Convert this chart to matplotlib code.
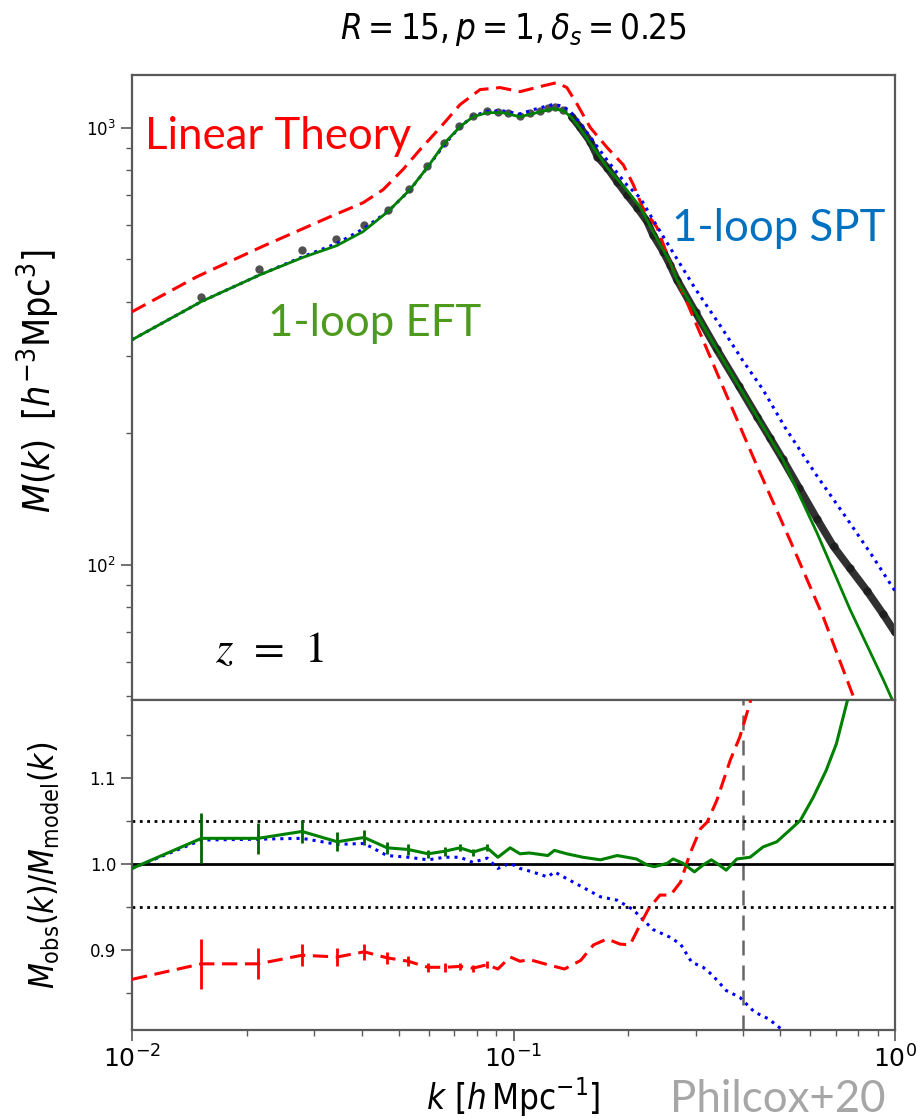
import matplotlib
matplotlib.use("Agg")
import matplotlib.pyplot as plt
from matplotlib import font_manager
from matplotlib.ticker import MultipleLocator, LogLocator, NullFormatter

# ---- top panel: measured marked power spectrum (h^-1 Mpc units) ----
k_data = [0.0152, 0.0215, 0.0279, 0.0343, 0.0406, 0.0469, 0.0532, 0.0594,
          0.0657, 0.0720, 0.0783, 0.0852, 0.0911, 0.0967, 0.104, 0.1105,
          0.1174, 0.123, 0.1285, 0.135, 0.142, 0.149, 0.159, 0.166, 0.176,
          0.187, 0.198, 0.211, 0.224, 0.232, 0.247, 0.257, 0.268, 0.30,
          0.341, 0.39, 0.435, 0.47, 0.508, 0.56, 0.625, 0.69, 0.762, 0.845,
          0.931, 1.0]
M_data = [410, 475, 524, 557, 600, 649, 724, 818, 924, 1011, 1065, 1094,
          1088, 1082, 1065, 1082, 1094, 1111, 1117, 1100, 1060, 1005, 929,
          858, 810, 752, 703, 656, 610, 569, 520, 486, 449, 378, 311, 256,
          218, 195, 174, 150, 127, 110, 98, 87, 77, 70]

k_lin = [0.01, 0.0148, 0.0220, 0.0330, 0.0403, 0.0455, 0.0513, 0.0569,
         0.0642, 0.0724, 0.0817, 0.0922, 0.104, 0.117, 0.130, 0.138, 0.147,
         0.159, 0.176, 0.194, 0.206, 0.218, 0.238, 0.257, 0.290, 0.354,
         0.435, 0.530, 0.648, 0.771, 0.80]
M_lin = [379, 456, 535, 625, 673, 721, 802, 891, 1000, 1129, 1222, 1235,
         1209, 1241, 1268, 1235, 1129, 1000, 900, 822, 741, 657, 590, 493,
         384, 255, 168, 114, 76, 50.9, 47]

k_eft = [0.01, 0.0152, 0.0217, 0.0281, 0.0344, 0.0403, 0.0469, 0.0535,
         0.0597, 0.0661, 0.0724, 0.0783, 0.0853, 0.0938, 0.104, 0.115, 0.127,
         0.135, 0.142, 0.149, 0.162, 0.176, 0.198, 0.215, 0.232, 0.257,
         0.268, 0.341, 0.435, 0.508, 0.625, 0.762, 0.931, 1.0]
M_eft = [327, 400, 461, 505, 537, 578, 643, 721, 815, 924, 1005, 1059, 1082,
         1082, 1059, 1082, 1105, 1094, 1055, 1000, 900, 810, 720, 657, 578,
         493, 449, 311, 218, 174, 118, 79, 54.6, 47.5]

k_spt = [0.01, 0.0152, 0.0217, 0.0281, 0.0344, 0.0403, 0.0469, 0.0535,
         0.0597, 0.0661, 0.0724, 0.0783, 0.0853, 0.0938, 0.104, 0.115, 0.127,
         0.135, 0.142, 0.149, 0.162, 0.176, 0.198, 0.215, 0.232, 0.257, 0.30,
         0.35, 0.40, 0.45, 0.515, 0.62, 0.75, 0.87, 1.0]
M_spt = [327, 400, 461, 507, 543, 586, 643, 720, 814, 918, 1005, 1062, 1090,
         1092, 1075, 1105, 1130, 1120, 1080, 1030, 930, 842, 740, 690, 616,
         532, 427, 350, 292, 252, 206, 161, 127, 105, 87]

# ---- bottom panel: M_obs / M_model ----
k_r_eft = [0.01, 0.0152, 0.0214, 0.0279, 0.0345, 0.0406, 0.0466, 0.053,
           0.0597, 0.066, 0.0724, 0.0783, 0.0853, 0.091, 0.098, 0.104, 0.110,
           0.123, 0.128, 0.138, 0.152, 0.169, 0.187, 0.210, 0.224, 0.234,
           0.253, 0.262, 0.278, 0.298, 0.314, 0.330, 0.346, 0.361, 0.385,
           0.417, 0.451, 0.490, 0.531, 0.565, 0.611, 0.660, 0.702, 0.751, 0.80]
r_eft = [0.995, 1.030, 1.030, 1.038, 1.026, 1.031, 1.019, 1.017, 1.012, 1.015,
         1.019, 1.014, 1.019, 1.008, 1.019, 1.012, 1.013, 1.010, 1.016, 1.012,
         1.008, 1.005, 1.010, 1.006, 0.999, 0.997, 1.001, 1.006, 1.001, 0.991,
         0.999, 1.005, 0.999, 0.993, 1.006, 1.008, 1.020, 1.026, 1.040, 1.051,
         1.078, 1.109, 1.140, 1.191, 1.25]

k_r_lin = [0.01, 0.0152, 0.0214, 0.0279, 0.0345, 0.0406, 0.0466, 0.053,
           0.0597, 0.066, 0.0724, 0.0783, 0.0853, 0.091, 0.098, 0.104, 0.110,
           0.123, 0.136, 0.150, 0.162, 0.176, 0.190, 0.202, 0.215, 0.226,
           0.242, 0.258, 0.274, 0.290, 0.309, 0.322, 0.341, 0.370, 0.392,
           0.417, 0.44]
r_lin = [0.866, 0.884, 0.884, 0.894, 0.892, 0.898, 0.891, 0.887, 0.880, 0.880,
         0.881, 0.879, 0.883, 0.878, 0.892, 0.887, 0.889, 0.883, 0.878, 0.888,
         0.906, 0.913, 0.907, 0.906, 0.930, 0.948, 0.964, 0.964, 0.979, 1.012,
         1.041, 1.049, 1.074, 1.121, 1.148, 1.188, 1.24]

k_r_spt = [0.01, 0.0152, 0.0214, 0.0279, 0.0345, 0.0406, 0.0466, 0.053,
           0.0597, 0.066, 0.0724, 0.0783, 0.0853, 0.091, 0.098, 0.104, 0.112,
           0.123, 0.128, 0.138, 0.152, 0.169, 0.187, 0.206, 0.219, 0.232,
           0.257, 0.274, 0.293, 0.314, 0.332, 0.361, 0.392, 0.428, 0.466,
           0.504, 0.54]
r_spt = [0.995, 1.028, 1.029, 1.030, 1.023, 1.024, 1.010, 1.008, 1.005, 1.008,
         1.008, 1.002, 1.007, 0.995, 1.001, 0.995, 0.991, 0.985, 0.991, 0.983,
         0.973, 0.962, 0.958, 0.947, 0.935, 0.924, 0.915, 0.907, 0.886, 0.880,
         0.871, 0.853, 0.845, 0.828, 0.820, 0.808, 0.79]

# 1-sigma errors on the first bins (shared by all ratios)
err_r = [0.0, 0.029, 0.018, 0.013, 0.011, 0.009, 0.007, 0.006, 0.005, 0.005,
         0.004, 0.004, 0.004]

k_cut = 0.4

# narrow sans for the axis labels if a condensed face is around
fonts = font_manager.fontManager.ttflist
if any(f.name == "DejaVu Sans" and "condensed" in str(f.stretch) for f in fonts):
    lab_rm = "DejaVu Sans:stretch=condensed"
    lab_it = "DejaVu Sans:style=italic:stretch=condensed"
else:
    lab_rm, lab_it = "DejaVu Sans", "DejaVu Sans:style=italic"
plt.rcParams["font.family"] = ["DejaVu Sans"]
plt.rcParams["mathtext.fontset"] = "custom"
plt.rcParams["mathtext.rm"] = lab_rm
plt.rcParams["mathtext.it"] = lab_it
plt.rcParams["mathtext.sf"] = lab_rm
note_font = "Lato"

fig = plt.figure(figsize=(9.17, 11.19), dpi=100)
ax1 = fig.add_axes([0.144, 0.3745, 0.832, 0.5585])
ax2 = fig.add_axes([0.144, 0.0795, 0.832, 0.2950], sharex=ax1)

ax1.plot(k_data, M_data, "o", color="#333333", ms=6, alpha=0.85, mec="none", zorder=2)
hi = [i for i, k in enumerate(k_data) if k >= 0.14]
ax1.plot([k_data[i] for i in hi], [M_data[i] for i in hi], "-", color="#1a1a1a",
         lw=5.5, alpha=0.9, zorder=2, solid_capstyle="round")
ax1.plot(k_lin, M_lin, "--", color="red", lw=2.2, dashes=(5, 2.5), zorder=3)
ax1.plot(k_spt, M_spt, ":", color="blue", lw=2.2, zorder=3)
ax1.plot(k_eft, M_eft, "-", color="green", lw=2.0, zorder=4)

ax1.set_xscale("log")
ax1.set_yscale("log")
ax1.set_xlim(0.01, 1.0)
ax1.set_ylim(49, 1320)
ax1.set_yticks([1e2, 1e3], [r"$10^{2}$", r"$10^{3}$"], fontsize=12,
               math_fontfamily="dejavusans")
ax1.yaxis.set_minor_locator(LogLocator(base=10, subs=range(2, 10)))
ax1.yaxis.set_minor_formatter(NullFormatter())
ax1.tick_params(axis="x", which="both", bottom=False, labelbottom=False)
ax1.set_ylabel(r"$M(k)\;\;[h^{-3}\mathrm{Mpc}^{3}]$", fontsize=27)
ax1.yaxis.set_label_coords(-0.092, 0.51)
ax1.set_title(r"$R = 15, p = 1, \delta_s = 0.25$", fontsize=25, pad=26)

ax1.text(0.017, 0.901, "Linear Theory", color="#ff0000", fontsize=31.5,
         family=note_font, va="center", transform=ax1.transAxes)
ax1.text(0.708, 0.755, "1-loop SPT", color="#0070c0", fontsize=31.5,
         family=note_font, va="center", transform=ax1.transAxes)
ax1.text(0.178, 0.603, "1-loop EFT", color="#4e9a1e", fontsize=31.5,
         family=note_font, va="center", transform=ax1.transAxes)
ax1.text(0.109, 0.08, r"$z\;\,=\;\,1$", color="black", fontsize=32,
         math_fontfamily="stix", va="center", transform=ax1.transAxes)

n = len(err_r)
ax2.plot(k_r_spt, r_spt, ":", color="blue", lw=2.2, zorder=3)
ax2.errorbar(k_r_lin[:n], r_lin[:n], yerr=err_r, fmt="none", ecolor="red",
             elinewidth=2, capsize=0, zorder=3)
ax2.plot(k_r_lin, r_lin, "--", color="red", lw=2.2, dashes=(5, 2.5), zorder=3)
ax2.errorbar(k_r_eft[:n], r_eft[:n], yerr=err_r, fmt="none", ecolor="#006400",
             elinewidth=2, capsize=0, zorder=4)
ax2.plot(k_r_eft, r_eft, "-", color="green", lw=2.2, zorder=4)

ax2.axhline(1.0, color="black", lw=2, zorder=2)
ax2.axhline(1.05, color="black", lw=2, ls=":", zorder=2)
ax2.axhline(0.95, color="black", lw=2, ls=":", zorder=2)
ax2.axvline(k_cut, color="0.4", lw=1.8, ls="--", dashes=(6, 4), zorder=1)

ax2.set_ylim(0.807, 1.191)
ax2.yaxis.set_major_locator(MultipleLocator(0.1))
ax2.yaxis.set_minor_locator(MultipleLocator(0.05))
ax2.tick_params(axis="y", which="major", labelsize=12)
ax2.tick_params(axis="x", which="major", labelsize=18, pad=3)
ax2.set_xlabel(r"$k\ [h\,\mathrm{Mpc}^{-1}]$", fontsize=25)
ax2.xaxis.set_label_coords(0.5, -0.14)
ax2.set_ylabel(r"$M_{\mathrm{obs}}(k)/M_{\mathrm{model}}(k)$", fontsize=24)
ax2.yaxis.set_label_coords(-0.092, 0.5)

for ax in (ax1, ax2):
    for sp in ax.spines.values():
        sp.set_color("0.35")
        sp.set_linewidth(1.6)
    ax.tick_params(which="major", length=8, width=1.2, color="0.35")
    ax.tick_params(which="minor", length=4.5, width=1.0, color="0.35")

fig.text(0.731, 0.0175, "Philcox+20", color="#a6a6a6", fontsize=31.5,
         family=note_font, va="center")

fig.savefig("out.png", dpi=100)
